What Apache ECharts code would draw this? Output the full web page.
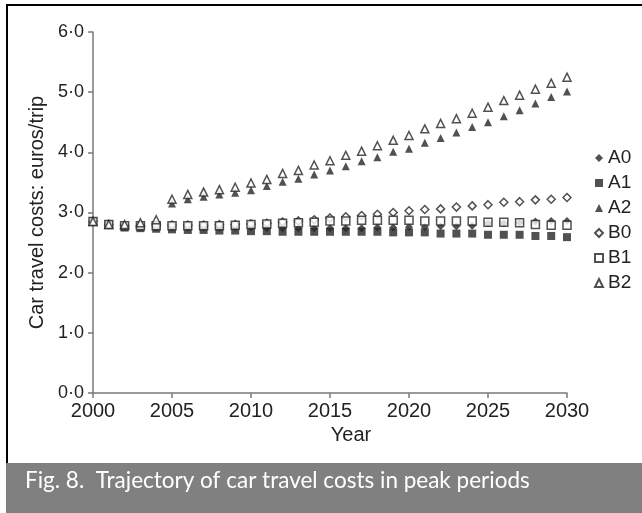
<!DOCTYPE html>
<html>
<head>
<meta charset="utf-8">
<script src="https://cdn.jsdelivr.net/npm/echarts@6/dist/echarts.min.js"></script>
<style>
    html, body { margin: 0; padding: 0; background: #fff; }
    #chart { width: 642px; height: 513px; }
</style>
</head>
<body>
<div id="chart"></div>
<script>
// years 2000..2030
const years = []
for (let y = 2000; y <= 2030; y++) years.push(y)

// car travel costs, euros/trip
const A0 = [2.85, 2.80, 2.77, 2.76, 2.76, 2.76, 2.75, 2.75, 2.75, 2.75, 2.75, 2.74, 2.74, 2.74, 2.74, 2.74, 2.74, 2.74, 2.75, 2.75, 2.76, 2.76, 2.77, 2.77, 2.78, 2.82, 2.82, 2.83, 2.85, 2.86, 2.86]
const A1 = [2.85, 2.80, 2.75, 2.74, 2.73, 2.72, 2.71, 2.71, 2.70, 2.70, 2.69, 2.69, 2.68, 2.68, 2.68, 2.68, 2.68, 2.68, 2.68, 2.67, 2.67, 2.67, 2.65, 2.65, 2.65, 2.63, 2.63, 2.63, 2.61, 2.61, 2.59]
const A2 = [2.85, 2.80, 2.78, 2.78, 2.78, 3.15, 3.22, 3.26, 3.30, 3.33, 3.37, 3.44, 3.51, 3.56, 3.63, 3.70, 3.77, 3.85, 3.92, 4.01, 4.06, 4.16, 4.24, 4.33, 4.42, 4.50, 4.60, 4.70, 4.81, 4.92, 5.01]
const B0 = [2.85, 2.80, 2.78, 2.78, 2.78, 2.79, 2.79, 2.79, 2.80, 2.80, 2.81, 2.82, 2.84, 2.86, 2.88, 2.91, 2.93, 2.95, 2.97, 3.00, 3.03, 3.05, 3.06, 3.09, 3.11, 3.13, 3.17, 3.18, 3.21, 3.22, 3.25]
const B1 = [2.85, 2.80, 2.78, 2.78, 2.78, 2.78, 2.78, 2.78, 2.78, 2.79, 2.80, 2.81, 2.82, 2.83, 2.84, 2.86, 2.86, 2.87, 2.87, 2.87, 2.87, 2.86, 2.86, 2.86, 2.86, 2.84, 2.84, 2.83, 2.80, 2.79, 2.79]
const B2 = [2.85, 2.80, 2.80, 2.83, 2.88, 3.22, 3.30, 3.34, 3.38, 3.42, 3.49, 3.55, 3.65, 3.70, 3.79, 3.86, 3.95, 4.02, 4.11, 4.20, 4.28, 4.39, 4.48, 4.56, 4.65, 4.75, 4.86, 4.95, 5.05, 5.15, 5.25]

const dark = '#262626'
const axisColor = '#7a7a7a'
const font = '"Liberation Sans", Arial, sans-serif'

function pts(arr) {
    return years.map((y, i) => [y, arr[i]])
}

function filled(name, symbol, data) {
    return {
        name: name,
        type: 'scatter',
        symbol: symbol,
        symbolSize: 8,
        itemStyle: { color: dark },
        data: pts(data)
    }
}

function open(name, symbol, data) {
    return {
        name: name,
        type: 'scatter',
        symbol: symbol,
        symbolSize: 8,
        itemStyle: { color: '#fff', borderColor: dark, borderWidth: 1.5 },
        data: pts(data)
    }
}

const myChart = echarts.init(document.getElementById('chart'))

const option = {
    backgroundColor: '#fff',
    animation: false,
    grid: {
        left: 93,
        right: 75,
        top: 32,
        bottom: 120
    },
    legend: {
        orient: 'vertical',
        left: 589,
        top: 143,
        itemWidth: 8,
        itemHeight: 8,
        itemGap: 5,
        textStyle: {
            color: '#222',
            fontSize: 19,
            lineHeight: 20,
            fontFamily: font
        },
        data: ['A0', 'A1', 'A2', 'B0', 'B1', 'B2']
    },
    xAxis: {
        type: 'value',
        min: 2000,
        max: 2030,
        interval: 5,
        name: 'Year',
        nameLocation: 'middle',
        nameGap: 32,
        nameTextStyle: {
            color: '#222',
            fontSize: 20,
            padding: [0, 0, 0, 42],
            fontFamily: font
        },
        axisLine: { lineStyle: { color: axisColor, width: 1.5 } },
        axisTick: { show: true, length: 5, lineStyle: { color: axisColor, width: 1.5 } },
        axisLabel: {
            color: '#222',
            fontSize: 20,
            margin: 8,
            fontFamily: font,
            formatter: v => String(v)
        },
        splitLine: { show: false }
    },
    yAxis: {
        type: 'value',
        min: 0,
        max: 6,
        interval: 1,
        name: 'Car travel costs: euros/trip',
        nameLocation: 'middle',
        nameGap: 46,
        nameTextStyle: {
            color: '#222',
            fontSize: 20,
            fontFamily: font
        },
        axisLine: { show: true, lineStyle: { color: axisColor, width: 1.5 } },
        axisTick: { show: true, length: 5, lineStyle: { color: axisColor, width: 1.5 } },
        axisLabel: {
            color: '#222',
            fontSize: 18,
            margin: 9,
            fontFamily: font,
            formatter: v => v.toFixed(1).replace('.', '\u00b7')
        },
        splitLine: { show: false }
    },
    graphic: [
        // frame
        { type: 'rect', shape: { x: 6, y: 4, width: 640, height: 2 }, style: { fill: '#000' }, z: 100 },
        { type: 'rect', shape: { x: 6, y: 4, width: 2, height: 459 }, style: { fill: '#000' }, z: 100 },
        // caption band
        { type: 'rect', shape: { x: 6, y: 463, width: 640, height: 52 }, style: { fill: '#808080' }, z: 100 },
        {
            type: 'text',
            left: 25,
            top: 469,
            z: 101,
            style: {
                text: 'Fig. 8.  Trajectory of car travel costs in peak periods',
                fill: '#fff',
                fontSize: 22.5,
                fontFamily: 'Lato, sans-serif'
            }
        }
    ],
    series: [
        filled('A0', 'diamond', A0),
        filled('A1', 'rect', A1),
        filled('A2', 'triangle', A2),
        open('B0', 'diamond', B0),
        open('B1', 'rect', B1),
        open('B2', 'triangle', B2)
    ]
}
myChart.setOption(option)
</script>
</body>
</html>
